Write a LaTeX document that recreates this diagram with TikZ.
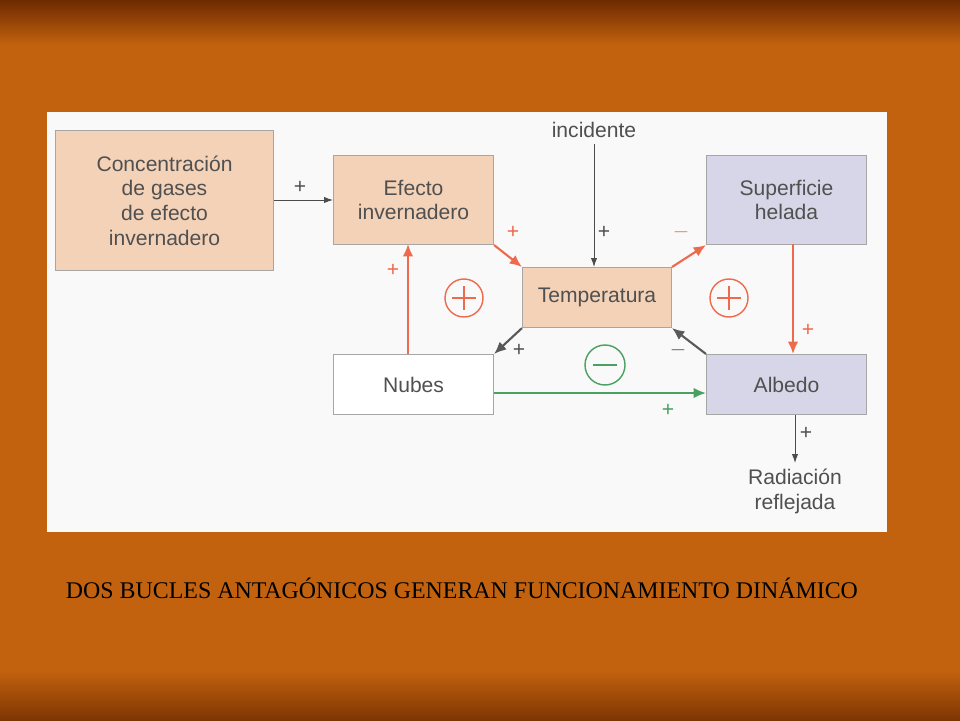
\documentclass[tikz,border=0pt]{standalone}
\usepackage{fontspec}
\setmainfont{Liberation Sans}
\newfontfamily\capfont{Liberation Serif}
\usetikzlibrary{arrows.meta}
\definecolor{bgo}{HTML}{C2620E}
\definecolor{bgd}{HTML}{6E2A00}
\definecolor{peach}{HTML}{F3D2B8}
\definecolor{lav}{HTML}{D6D6E8}
\definecolor{txt}{HTML}{505050}
\definecolor{redl}{HTML}{EE6A4C}
\definecolor{grn}{HTML}{4AA060}
\tikzset{
 box/.style={draw=gray!70,line width=0.6pt,text=txt,align=center,font=\fontsize{12}{14}\selectfont,anchor=north west},
 lab/.style={text=txt,font=\fontsize{12}{14}\selectfont},
 red/.style={draw=redl,line width=1.2pt,-{Latex[length=7pt,width=6pt]}},
 dk/.style={draw=gray!70!black,line width=1.2pt,-{Latex[length=7pt,width=6pt]}},
 thin/.style={draw=gray!60!black,line width=0.5pt,-{Latex[length=5pt,width=3.5pt]}},
}
\begin{document}
\begin{tikzpicture}[x=0.02cm,y=-0.02cm]
\useasboundingbox (0,0) rectangle (960,720);
\fill[bgo] (0,0) rectangle (960,720);
\shade[top color=bgd,bottom color=bgo] (0,0) rectangle (960,45);
\shade[top color=bgo,bottom color=bgd!80!bgo] (0,670) rectangle (960,720);
\fill[white!95!gray] (47,112) rectangle (887,532);
\node[box,fill=peach,minimum width=218*0.02cm,minimum height=140*0.02cm] (c) at (55,130) {Concentración\\de gases\\de efecto\\invernadero};
\node[box,fill=peach,minimum width=160*0.02cm,minimum height=89*0.02cm] (e) at (333,155) {Efecto\\invernadero};
\node[box,fill=peach,minimum width=149*0.02cm,minimum height=60*0.02cm] (t) at (522,267) {Temperatura};
\node[box,fill=lav,minimum width=160*0.02cm,minimum height=89*0.02cm] (s) at (706,155) {Superficie\\helada};
\node[box,fill=white,minimum width=160*0.02cm,minimum height=60*0.02cm] (n) at (333,354) {Nubes};
\node[box,fill=lav,minimum width=160*0.02cm,minimum height=60*0.02cm] (a) at (706,354) {Albedo};
\node[lab] (inc) at (594,130) {incidente};
\node[lab,align=center,anchor=north] (rad) at (795,463) {Radiación\\reflejada};
\draw[thin] (inc.south) -- (inc.south |- t.north);
\draw[thin] (c.east |- 0,200) -- (e.west |- 0,200);
\draw[red] (e.south east) -- (t.north west);
\draw[red] (t.north east) -- (s.south west);
\draw[red] (793,244) -- (793,354);
\draw[dk] (a.north west) -- (t.south east);
\draw[dk] (t.south west) -- (n.north east);
\draw[red] (408,354) -- (408,244);
\draw[draw=grn,line width=1.2pt,-{Latex[length=7pt,width=6pt]}] (n.east |- 0,393) -- (a.west |- 0,393);
\draw[thin] (rad.north |- a.south) -- (rad.north);
\node[lab] at (300,187) {+};
\node[lab] at (604,232) {+};
\node[lab,text=redl] at (513,232) {+};
\node[lab,text=redl] at (681,232) {$-$};
\node[lab,text=redl] at (808,330) {+};
\node[lab] at (678,350) {$-$};
\node[lab] at (519,350) {+};
\node[lab,text=redl] at (393,270) {+};
\node[lab,text=grn] at (668,410) {+};
\node[lab] at (806,433) {+};
\node[draw=redl,circle,line width=0.8pt,minimum size=38*0.02cm,inner sep=0] (p1) at (464,298) {};
\draw[redl,line width=0.8pt] (452,298)--(476,298) (464,286)--(464,310);
\node[draw=redl,circle,line width=0.8pt,minimum size=38*0.02cm,inner sep=0] (p2) at (729,298) {};
\draw[redl,line width=0.8pt] (717,298)--(741,298) (729,286)--(729,310);
\node[draw=grn,circle,line width=0.8pt,minimum size=40*0.02cm,inner sep=0] (m1) at (605,365) {};
\draw[grn,line width=0.8pt] (593,365)--(617,365);
\node[font=\capfont\fontsize{13.6}{15}\selectfont] (cap) at (462,588) {DOS BUCLES ANTAGÓNICOS GENERAN FUNCIONAMIENTO DINÁMICO};
\end{tikzpicture}
\end{document}
